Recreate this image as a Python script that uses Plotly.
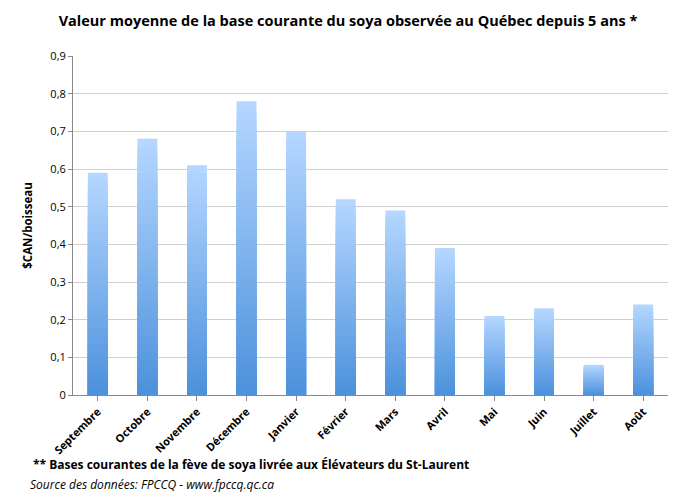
import plotly.graph_objects as go

mois = ["Septembre","Octobre","Novembre","Décembre","Janvier","Février","Mars","Avril","Mai","Juin","Juillet","Août"]
valeurs = [0.59,0.68,0.61,0.78,0.70,0.52,0.49,0.39,0.21,0.23,0.08,0.24]
tick_vals = [0,0.1,0.2,0.3,0.4,0.5,0.6,0.7,0.8,0.9]
tick_text = ["0","0,1","0,2","0,3","0,4","0,5","0,6","0,7","0,8","0,9"]

top = (180, 214, 255)
bot = (74, 144, 220)
N = 30
fig = go.Figure()
for k in range(N, 0, -1):
    f = k / N
    c = tuple(int(bot[i] + (top[i] - bot[i]) * f) for i in range(3))
    fig.add_trace(go.Bar(x=mois, y=[v * f for v in valeurs], width=0.4,
                         marker=dict(color="rgb(%d,%d,%d)" % c, line=dict(width=0)),
                         hoverinfo="skip", showlegend=False))

fig.update_layout(
    barmode="overlay", width=680, height=496, plot_bgcolor="white", paper_bgcolor="white",
    margin=dict(l=65, r=20, t=48, b=109, autoexpand=False),
    font=dict(family="Open Sans", size=11, color="black"),
    title=dict(text="<b>Valeur moyenne de la base courante du soya observée au Québec depuis 5 ans *</b>",
               x=0.5, xanchor="center", y=0.985, yanchor="top", font=dict(size=14.5)),
    yaxis=dict(range=[0, 0.9], tickvals=tick_vals, ticktext=tick_text, showgrid=True, automargin=False,
               gridcolor="#d0d0d0", showline=True, linecolor="#888", ticks="outside", ticklen=4,
               tickcolor="#888", title=dict(text="<b>$CAN/boisseau</b>", font=dict(size=11.5)),
               tickfont=dict(size=11)),
    xaxis=dict(showline=True, linecolor="#888", tickangle=-45, ticks="outside", tickcolor="#888",
               automargin=False, tickfont=dict(size=11)),
)
fig.update_xaxes(tickprefix="<b>", ticksuffix="</b>")
fig.update_yaxes(tickprefix="<b>", ticksuffix="</b>")
fig.add_annotation(text="<b>** Bases courantes de la fève de soya livrée aux Élévateurs du St-Laurent</b>",
                   xref="paper", yref="paper", x=-0.07, y=-0.235, xanchor="left", showarrow=False,
                   font=dict(size=12))
fig.add_annotation(text="<i>Source des données: FPCCQ - www.fpccq.qc.ca</i>",
                   xref="paper", yref="paper", x=-0.075, y=-0.295, xanchor="left", showarrow=False,
                   font=dict(size=12))
fig.write_html("out.html")
